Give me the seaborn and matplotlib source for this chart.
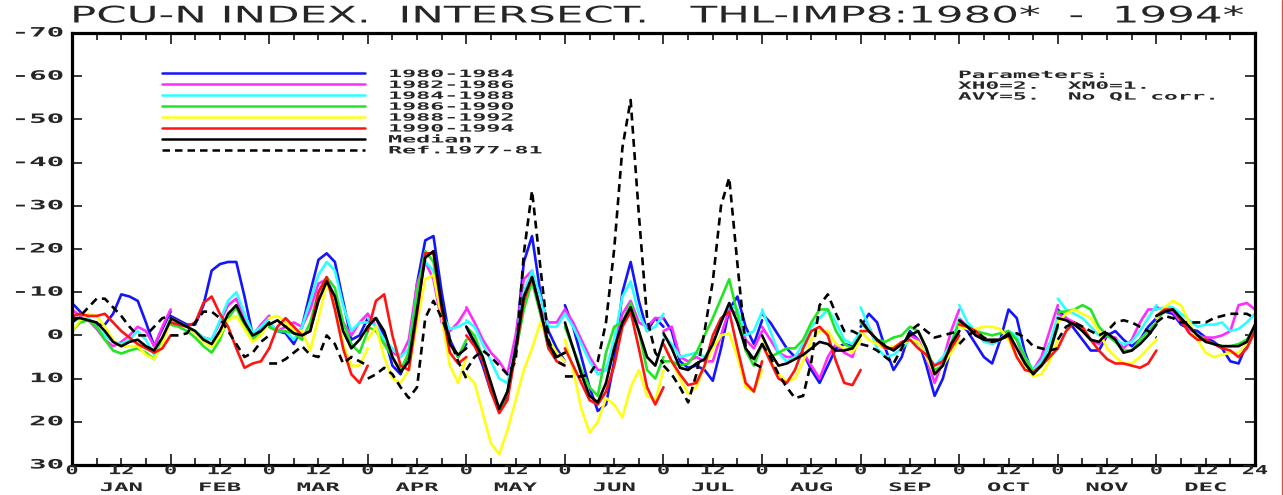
import numpy as np
import pandas as pd
import seaborn as sns
import matplotlib
matplotlib.use("Agg")
import matplotlib.pyplot as plt
from matplotlib.lines import Line2D
from matplotlib.patheffects import AbstractPathEffect
from matplotlib.transforms import Affine2D
from matplotlib.ticker import FixedLocator

# ---------------------------------------------------------------- data
MONTHS = ["JAN", "FEB", "MAR", "APR", "MAY", "JUN",
          "JUL", "AUG", "SEP", "OCT", "NOV", "DEC"]
HOURS = list(range(0, 25, 2))          # UT hour within each month panel

SERIES = ["1980-1984", "1982-1986", "1984-1988", "1986-1990",
          "1988-1992", "1990-1994", "Median", "Ref.1977-81"]

# one row per month, values at HOURS (axis is inverted: negative = up)
P1980_84 = [
    [-7.5, -5.5, -3.5, -2.5, -2.5, -5, -9.5, -9, -8, -3, 2.5, -1.5, -5.5],
    [-4.5, -3.5, -2.5, -2.5, -7, -15, -16.5, -17, -17, -9, 0, -2, -4.5],
    [-2, -1, -0.5, 2, -2, -10, -17.5, -19, -17, -8, 1, 0, -4],
    [-3, -4, 0, 7, 9, 4, -12, -22, -23, -10, 1, 5, 2],
    [-2, 2, 7, 13, 17, 14, 2, -17, -23, -10, -1, 3, 6],
    [-7, -2, 5, 12, 17.5, 16, 6, -10, -17, -8, -1, -4, -2],
    [-4, -1, 6, 7.5, 7, 8, 10.5, 3, -6, -9, -2, 2, -3.5],
    [-5, -3, 0, 3, 5, 4, 8, 11, 7, 3, 2, 2.5, -0.5],
    [-2, -5, -3, 3, 8, 5, -1, 1, 7, 14, 10, 3, -1],
    [-3, -1, 2, 5, 6.5, 1, -6, -4, 4, 9, 6, 2, -2],
    [-6, -4, -1.5, 1, 3.5, 3.5, 0, -1, 1, 2.5, 1, -2, -4],
    [-4, -5.5, -5, -2.5, -1.5, -1, 0.5, 1.5, 3, 6, 6.5, 2, -2],
]
P1982_86 = [
    [-6, -4.5, -3.5, -1.5, 1, 2.5, 1.5, 0, -2, -1, 2.5, -2, -6],
    [-4, -3, -2, -0.5, 0.5, 1, -3, -7, -8.5, -4, 0, -2.5, -4.5],
    [-3, -1, -2, -3, -2, -6, -12, -13, -9, -3, 0, -3, -5],
    [-5, -2, 1, 4, 5, 1, -12, -17, -13, -3, -1, -3, -6],
    [-6.5, -3, 1, 4, 6, 9, 0, -13, -15, -6, -3, -3, -6],
    [-6, -3, 1, 5, 8, 8, 3, -5, -8, -3, -2, -4, -4],
    [-1, -2, 5, 6, 5, 6, 6, 0, -6, -5, 1, 3, -1],
    [-2, 1, 4, 5, 5, 4, 7, 10, 5, 2, 4, 5, -1],
    [-3, -2, 2, 3, 3, 2, 0, 1, 5, 11, 6, -1, -6],
    [-4, -2, 0, 1, 2, 1, -1, 1, 6, 8, 5, -1, -7],
    [-5, -4, -3, -1, 1, 2, 0, 0.5, 3, 1, -3, -6, -6],
    [-6.5, -6, -5.5, -3, -1.5, 0, 0.5, 0.5, 0, -1, -7, -7.5, -6],
]
P1984_88 = [
    [-3, -4, -4, -2, 0, 1.5, 2, 1, -1, 1, 4.5, 1, -4],
    [-3, -3, -2, -1, 0.5, 1, -3.5, -8, -10, -5, -0.5, -2, -4],
    [-3, -1, -1, 1, -2, -8, -14, -17, -15, -7, -1, -3, -3],
    [-4, -2, 1, 3, 5, 3, -10, -17, -15, -5, -1.5, -2, -3],
    [-3.5, -2, 2, 6, 10, 11, 3, -10, -15, -9, -2, -2, -5],
    [-5, -2, 2, 6, 9, 8, 1, -9, -12.5, -5, -1, -2, -5],
    [0, 2, 5, 4.5, 4, 5, 2, -3, -7, -6, 0, -1, -5.5],
    [-6, -1, 4, 6, 5, 2, -2, -4, -6, -3, 1, 2, -1],
    [-6.5, -2, 3, 5, 4.5, 3, 1, 2, 4, 7, 5, 2, -4],
    [-7, -3, -1, 1.5, 2, 1, -1, 0, 5, 8, 6, 2, -4.5],
    [-8.5, -6, -5, -4, -2, 0, 0, 1, 2, 1.5, -1, -4, -7],
    [-6, -6.5, -6.5, -5, -3.5, -2, -2.5, -2.5, -3, -1, -1.5, -3, -5],
]
P1986_90 = [
    [-1, -3, -3.5, -2, 1, 3.5, 4.2, 3.5, 3, 4, 5.5, 1.5, -4],
    [-2.5, -2, -1, 0.5, 2.5, 4, 1, -4, -6.5, -2, 1, -1, -3],
    [-2, -1, -1, -0.5, 1, -3, -10, -13.5, -11, -3, 2, 4, -1],
    [-2, -1, 2, 5, 8, 4, -10, -19.5, -17, -6, 2, 5, 1],
    [-2, 0, 5, 12, 17.5, 13, 4, -6, -12.5, -5, 3, 5, 4],
    [-2, 3, 8, 12, 14, 4, -2, -3, -7.5, -1, 8, 10, 5],
    [6, 6, 7, 6.5, 4, 0, -4, -8.5, -13, -5, 3.5, 7, 2],
    [2, 5, 4, 3, 3, 1, -3, -6, -6, -1, 2, 3, 0],
    [-3, -1, 1, 1.5, 0.5, 0, -2, -1, 3, 8, 7, 2, -3],
    [-3, -2, -1, -0.5, 0, -0.5, -1, 1, 5, 8.5, 7, 4, -2],
    [-5.5, -5.5, -6, -7, -6, -2, 0, 1.5, 3.5, 3.5, 1, -1, -3],
    [-4, -5.5, -6, -4, -2, 0, 1, 2, 2.5, 2.5, 2, 1, -2],
]
P1988_92 = [
    [-1, -3.5, -5, -4.5, -2, 1, 2.7, 2.5, 2.5, 4.5, 5.5, 2, -3.5],
    [-4, -3, -2, -0.5, 1.5, 2.7, 0, -3.5, -4.5, -1.5, 1.5, 0, -3],
    [-4, -4.5, -3, -1, -1, 3.5, -4, -12, -8, 2, 7, 7, 3],
    [1, -2, 5, 10, 11, 8, -3, -13, -14, -4, 7, 11, 5],
    [9, 11, 18, 25, 27.5, 22, 15, 8, 3, -3, 1, 4, 6],
    [1, 8, 17, 22.5, 20, 14.5, 16, 19, 12, 8, 14, 15, 8],
    [2, 6, 10, 13.5, 12, 7, 3, 0, -0.5, 5, 12, 13, 8],
    [0, 6, 9, 10.5, 10, 6, 1, -1, -1, 2, 3, 4, 1],
    [-1, 1, 2, 3, 2.5, 2, 1, 1.5, 5, 9, 7, 4, 1],
    [-2, -1.5, -1.5, -2, -2, -1.5, 1, 5, 7, 9.5, 9, 6, 1],
    [-3, -5, -6, -5, -4, -1, 3, 5, 6.5, 6.5, 5, 3, 1],
    [-4, -6.5, -8, -7, -3, 1, 4, 5, 4.5, 4, 4, 2, -1],
]
P1990_94 = [
    [-4.5, -5, -4.5, -4.5, -5, -3, -1, 0.5, 2, 3, 4, 3, 0],
    [-3, -2.5, -2, -3, -7.5, -9, -5, -2, 3, 7.5, 6.5, 6, 3],
    [3, -2, -4, -2, 0, -1, -10, -13.5, -6, 3, 9, 11, 7],
    [-1, -8, -9.5, 0, 7, 8, -5, -19, -19, -6, 4, 6.5, 5],
    [0, 2.5, 6, 13, 18, 15, 4, -8, -13.5, -6, 3, 6, 7],
    [3, 7, 11, 15, 16, 13, 7, -2, -5.5, 3, 12, 16, 12],
    [2, 6, 9, 11.5, 11, 7, 0, -4, -5.5, 3, 11, 13, 6],
    [2, 6, 10, 11, 8, 3, -1, -2, 0, 6, 11, 11.5, 8],
    [-1, -1, 1, 3, 3, 1.5, 1, 3, 4.5, 7, 6, 3, 0],
    [-2.5, -2, -1, 1, 1.5, 1, 0, 5, 8, 8.5, 7, 5, 3],
    [3, -1, -3, -2, 1, 3.5, 5.5, 6.5, 6.5, 7, 7.5, 6.5, 3.5],
    [-4.5, -6, -6, -3.5, -0.5, 1, 1, 2, 3, 3.5, 5, 3, -1],
]
MEDIAN = [
    [-4, -4, -3.5, -3, -1, 1.5, 2.5, 1.5, 1, 2.5, 3.5, 0.5, -3.5],
    [-4, -3, -2, -1, 1, 2, -1, -5, -7, -3, 0, -1, -3],
    [-2.5, -3.5, -2, -0.5, 0, -1, -8, -12.5, -9, -1, 3, 1, -2],
    [-2, -4, -1, 5, 8.5, 6, -6, -18, -19.5, -7, 2, 4.5, 3],
    [-2, 1.5, 5, 11, 17, 13, 3, -9, -13.5, -6, 2, 5, 4],
    [-3, 3, 9, 14, 15.5, 11, 3, -3, -6.5, -1, 5, 7, 1],
    [-0.5, 3, 7.5, 8, 6.5, 5.5, 2, -3, -7.5, -3, 3, 5.5, 2],
    [0, 4, 7, 6.5, 5.5, 4.5, 3, 1.5, 2, 3.5, 3.5, 3, 0],
    [-3.5, -1, 1, 2.5, 3.5, 2, 0, -1, 3, 9, 7, 2, -1],
    [-3.5, -2, 0, 1, 1, 1, -0.5, 3, 6.5, 9, 7, 4, -2.5],
    [-4, -3.5, -2.5, -1, 1, 1.5, -0.5, 1, 4, 3.5, 2, 0, -2.5],
    [-4.5, -5.5, -6, -4, -2, 0, 1.5, 2, 2.5, 2.5, 2.5, 1.5, -2.5],
]
REF_1977_81 = [
    [-3, -4.5, -6.5, -8.5, -8.5, -6.5, -4.5, -2, 0, 0, -2, -4, -4.5],
    [0, 0, -0.5, -3, -5.5, -5.5, -4, -1, 2, 5, 4, 1.5, 0],
    [6.5, 6.5, 5.5, 4, 2.5, 4.5, 5, 0, 2, 6.5, 5, 6, 7],
    [10, 9, 7.5, 9, 12, 14.5, 12, -4, -8, -4, 1, 6, 10],
    [8, 5, 3.5, 5, 7, 9, 6, -19, -33.5, -16, 1, 6, 7],
    [9.5, 9.5, 9.5, 9, 6, -3, -20, -43.5, -54.5, -28, -4, 4, 6.5],
    [7, 9, 12, 15.5, 9, -1, -12.5, -30, -36.5, -16.5, 2.5, 6.5, 7.5],
    [2, 5, 9, 12, 14.5, 14, 6, -7, -9.5, -5, -1, -1, 0],
    [2, 2.5, 3.5, 5, 6.5, 3, -1, -2.5, -1, 0.5, 0, -0.5, -1],
    [2, 0, -1, 0.5, 1.5, 1, 0, -0.5, 0.5, 2.5, 3, 3.5, 3],
    [1, -2, -3, -2, -1, 0, -1, -3, -3.5, -3, -2, -1, 0.5],
    [-3, -4.5, -4, -3, -3, -3, -3, -4, -4.5, -5, -5, -5, -4],
]

VALUES = [P1980_84, P1982_86, P1984_88, P1986_90,
          P1988_92, P1990_94, MEDIAN, REF_1977_81]
COLORS = ["#1414ff", "#ff2cff", "#2cffff", "#22e622",
          "#ffff14", "#ff1414", "#000000", "#000000"]

Y_TICKS = [-70, -60, -50, -40, -30, -20, -10, 0, 10, 20, 30]
X_TICK_LABELS = ["0", "12"]            # hour marks inside each month
TITLE = "PCU-N INDEX.  INTERSECT.   THL-IMP8:1980*  -  1994*"
PARAMS = "Parameters:\nXH0=2.  XM0=1.\nAVY=5.  No QL corr."

# long table: one row per (series, month, hour)
rows = []
for name, table in zip(SERIES, VALUES):
    for m, month_vals in enumerate(table):
        for h, v in zip(HOURS, month_vals):
            rows.append((name, m, m * 24 + h, v))
df = pd.DataFrame(rows, columns=["series", "month", "t", "index"])


# ---------------------------------------------------------------- text style
class Widen(AbstractPathEffect):
    """Stretch glyph outlines horizontally (plotter style lettering)."""

    def __init__(self, sx=1.0, anchor="left"):
        super().__init__()
        self.sx = sx
        self.anchor = anchor

    def draw_path(self, renderer, gc, tpath, affine, rgbFace=None):
        ext = tpath.get_extents()
        if self.anchor == "center":
            x0 = 0.5 * (ext.x0 + ext.x1)
        elif self.anchor == "right":
            x0 = ext.x1
        else:
            x0 = 0.0
        pre = Affine2D().translate(-x0, 0).scale(self.sx, 1.0).translate(x0, 0)
        renderer.draw_path(gc, tpath, pre + affine, rgbFace)


sns.set_theme(style="white")
plt.rcParams["font.family"] = ["DejaVu Sans Mono", "DejaVu Sans"]
plt.rcParams["axes.unicode_minus"] = False

W, H = 1284, 495
fig = plt.figure(figsize=(W / 100, H / 100), dpi=100)
fig.patch.set_facecolor("white")
x0, x1, ytop, ybot = 72, 1255, 33, 465
ax = fig.add_axes([x0 / W, 1 - ybot / H, (x1 - x0) / W, (ybot - ytop) / H])

sns.lineplot(
    data=df, x="t", y="index", hue="series", style="series",
    units="month", estimator=None, sort=False,
    hue_order=SERIES, style_order=SERIES,
    palette=dict(zip(SERIES, COLORS)),
    dashes={s: ((3, 2) if s.startswith("Ref") else "") for s in SERIES},
    linewidth=1.9, legend=False, ax=ax,
)

ax.set_xlim(0, 288)
ax.set_ylim(30, -70)
ax.set_xlabel("")
ax.set_ylabel("")
for sp in ax.spines.values():
    sp.set_linewidth(2.3)
    sp.set_color("black")
    sp.set_visible(True)

# tick marks (inward on all four sides)
ax.yaxis.set_major_locator(FixedLocator(Y_TICKS))
ax.xaxis.set_major_locator(FixedLocator([m * 24 for m in range(13)]))
ax.xaxis.set_minor_locator(FixedLocator([m * 24 + h for m in range(12) for h in (6, 12, 18)]))
ax.tick_params(axis="y", which="major", direction="in", length=7, width=1.3,
               left=True, right=True, labelleft=False)
ax.tick_params(axis="x", which="major", direction="in", length=8, width=1.3,
               top=True, bottom=True, labelbottom=False)
ax.tick_params(axis="x", which="minor", direction="in", length=5, width=1.3,
               top=True, bottom=True, labelbottom=False)

small = dict(family="DejaVu Sans Mono", weight="bold")

# y labels
ytr = ax.get_yaxis_transform()
for v in Y_TICKS:
    t = ax.text(-0.0075, v, f"{v}", transform=ytr, ha="right", va="center",
                fontsize=9.3, **small)
    t.set_path_effects([Widen(2.25, "right")])

# x labels: hour marks and month names
xtr = ax.get_xaxis_transform()
for m, name in enumerate(MONTHS):
    for k, lab in enumerate(X_TICK_LABELS):
        t = ax.text(m * 24 + 12 * k, -0.013, lab, transform=xtr,
                    ha="center", va="center", fontsize=9, **small)
        t.set_path_effects([Widen(1.75, "center")])
    t = ax.text(m * 24 + 12, -0.052, name, transform=xtr,
                ha="center", va="center", fontsize=8.4, **small)
    t.set_path_effects([Widen(2.05, "center")])
t = ax.text(288, -0.013, "24", transform=xtr, ha="center", va="center",
            fontsize=9, **small)
t.set_path_effects([Widen(1.75, "center")])

# title
tt = fig.text(70 / W, 1 - 22.5 / H, TITLE, ha="left", va="baseline",
              fontsize=16.5, family="DejaVu Sans")
tt.set_path_effects([Widen(1.9, "left")])

# parameter block
pt = fig.text(958 / W, 1 - 70 / H, PARAMS, ha="left", va="top",
              fontsize=7.3, linespacing=1.1, **small)
pt.set_path_effects([Widen(2.25, "left")])

# legend
handles = [Line2D([], [], color=c, lw=1.8,
                  linestyle=((0, (3, 2)) if s.startswith("Ref") else "-"))
           for s, c in zip(SERIES, COLORS)]
leg = ax.legend(handles, SERIES, loc="upper left",
                bbox_to_anchor=(162 / W, 1 - 69 / H),
                bbox_transform=fig.transFigure, frameon=False,
                handlelength=20.0, handletextpad=2.3, labelspacing=0.09,
                borderpad=0, borderaxespad=0,
                prop=dict(family="DejaVu Sans Mono", weight="bold", size=7.3))
for t in leg.get_texts():
    t.set_path_effects([Widen(2.3, "left")])

# thin border line at the right edge of the sheet
fig.add_artist(Line2D([0.9985, 0.9985], [0, 1], transform=fig.transFigure,
                      color="#e05050", lw=1.0))

fig.savefig("out.png", dpi=100, facecolor="white")
